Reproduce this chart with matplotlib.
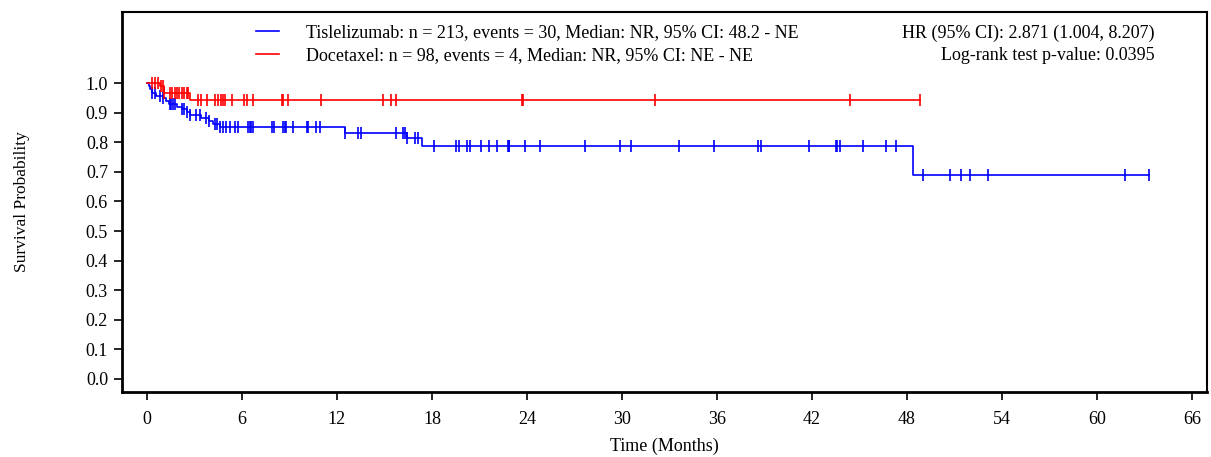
import matplotlib
matplotlib.use("Agg")
import matplotlib.pyplot as plt
import numpy as np

plt.rcParams['font.family'] = ['Liberation Serif', 'DejaVu Serif']

# Kaplan-Meier step points (time in months, survival)
tis_t = [0, 0.1, 0.2, 0.3, 0.6, 1.0, 1.2, 1.4, 1.9, 2.2, 2.5, 2.7, 3.4, 3.9, 4.2, 4.6,
         12.5, 16.4, 17.4, 48.4, 63.3]
tis_s = [1.0, 0.990, 0.981, 0.967, 0.957, 0.948, 0.939, 0.930, 0.920, 0.911, 0.902,
         0.892, 0.882, 0.872, 0.862, 0.852, 0.832, 0.813, 0.787, 0.689, 0.689]
tis_cens = [0.3, 0.5, 0.8, 1.0, 1.45, 1.55, 1.65, 1.77, 2.2, 2.35, 2.5, 2.7, 3.1, 3.35,
            3.7, 3.9, 4.3, 4.45, 4.6, 4.82, 5.0, 5.25, 5.56, 5.77, 6.4, 6.5, 6.6, 6.7,
            7.9, 8.0, 8.6, 8.7, 8.8, 9.2, 10.1, 10.2, 10.7, 10.9, 12.5, 13.35, 13.5,
            15.7, 16.2, 16.3, 16.4, 16.9, 17.1, 18.1, 19.5, 19.7, 20.2, 20.4, 21.1,
            21.6, 22.1, 22.8, 22.85, 22.9, 23.9, 24.8, 27.7, 29.9, 30.6, 33.6, 35.8,
            38.6, 38.8, 41.8, 43.5, 43.6, 43.8, 45.2, 46.7, 47.3, 49.0, 50.7, 51.4,
            52.0, 53.1, 61.8, 63.3]

doc_t = [0, 0.8, 1.1, 2.7, 48.8]
doc_s = [1.0, 0.989, 0.968, 0.944, 0.944]
doc_cens = [0.3, 0.5, 0.7, 0.9, 1.0, 1.1, 1.45, 1.6, 1.75, 1.9, 2.05, 2.2, 2.35, 2.5,
            2.6, 3.2, 3.4, 3.8, 4.3, 4.5, 4.7, 4.8, 4.9, 5.4, 6.1, 6.3, 6.7, 8.5, 8.6,
            8.9, 11.0, 14.9, 15.4, 15.7, 23.7, 23.75, 32.1, 44.4, 48.8]

tis_label = "Tislelizumab: n = 213, events = 30, Median: NR, 95% CI: 48.2 - NE"
doc_label = "Docetaxel: n = 98, events = 4, Median: NR, 95% CI: NE - NE"
hr_text = "HR (95% CI): 2.871 (1.004, 8.207)"
p_text = "Log-rank test p-value: 0.0395"


def surv_at(times, surv, x):
    idx = np.searchsorted(times, x, side='right') - 1
    return np.array(surv)[idx]


fig = plt.figure(figsize=(12.11, 4.57), dpi=100)
ax = fig.add_axes([0.1007, 0.1422, 0.896, 0.8315])

blue = '#0000ff'
red = '#ff0000'

l1, = ax.step(tis_t, tis_s, where='post', color=blue, lw=1.2)
ax.plot(tis_cens, surv_at(tis_t, tis_s, tis_cens), ls='none', marker='|',
        ms=8, mew=1.2, color=blue)
l2, = ax.step(doc_t, doc_s, where='post', color=red, lw=1.2)
ax.plot(doc_cens, surv_at(doc_t, doc_s, doc_cens), ls='none', marker='|',
        ms=8, mew=1.2, color=red)

ax.set_xlim(-1.58, 66.96)
ax.set_ylim(-0.044, 1.24)
ax.set_xticks(np.arange(0, 67, 6))
ax.set_yticks(np.arange(0, 1.01, 0.1))
ax.set_yticklabels([f"{v:.1f}" for v in np.arange(0, 1.01, 0.1)])
ax.tick_params(direction='out', length=6, width=1.2, labelsize=13, pad=4)
ax.tick_params(axis='x', pad=8)
for s in ax.spines.values():
    s.set_linewidth(1.5)
ax.spines['left'].set_linewidth(2)
ax.spines['bottom'].set_linewidth(2)

ax.set_xlabel("Time (Months)", fontsize=13, labelpad=7)
ax.set_ylabel("Survival Probability", fontsize=12.5, labelpad=40)

leg = ax.legend([l1, l2], [tis_label, doc_label], loc='upper left',
                bbox_to_anchor=(0.1166, 0.986), frameon=False, fontsize=13,
                handlelength=1.27, handletextpad=1.5, labelspacing=0.3,
                borderaxespad=0)
ax.text(0.952, 0.9447, hr_text, transform=ax.transAxes, ha='right', va='center',
        fontsize=13)
ax.text(0.952, 0.8868, p_text, transform=ax.transAxes, ha='right', va='center',
        fontsize=13)

fig.savefig("out.png", dpi=100)
